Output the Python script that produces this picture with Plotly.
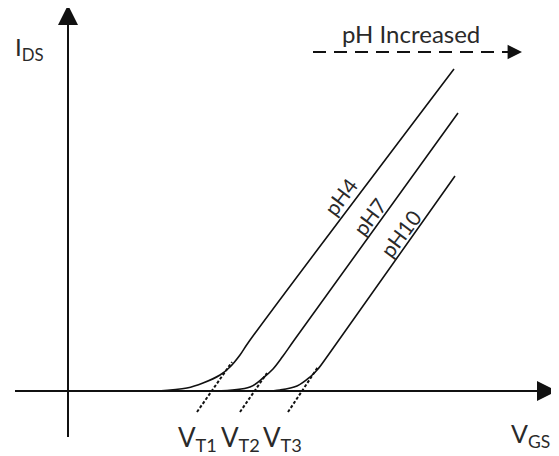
import plotly.graph_objects as go

# Transfer curves (schematic units: V_GS horizontal, I_DS vertical)
VGS_PH4 = [90, 119, 135, 152, 162, 172, 180, 386]
IDS_PH4 = [0, 3, 8, 16, 24, 36, 48, 322]
VGS_PH7 = [147, 182, 195, 205, 215, 227, 390]
IDS_PH7 = [0, 4, 13, 22, 35, 52, 278]
VGS_PH10 = [197, 212, 229, 242, 250, 261, 387]
IDS_PH10 = [0, 1, 5, 14, 22, 37, 215]

# Extrapolated linear regions (dotted) down to threshold voltages
EXT_X = [[129, 164], [172, 199], [220, 250]]
EXT_Y = [[-21, 29], [-21, 18], [-21, 24]]

CURVE_LABELS = ["pH4", "pH7", "pH10"]
CURVE_LABEL_POS = [(272, 195), (301, 175), (332, 158)]
VT_LABELS = ["V<sub>T1</sub>", "V<sub>T2</sub>", "V<sub>T3</sub>"]
VT_LABEL_X = [108, 151, 193]

FONT = "Lato"
INK = "#111111"
TXT = "#2a2a2a"

fig = go.Figure()
for xs, ys in [(VGS_PH4, IDS_PH4), (VGS_PH7, IDS_PH7), (VGS_PH10, IDS_PH10)]:
    fig.add_trace(go.Scatter(x=xs, y=ys, mode="lines",
                             line=dict(color=INK, width=1.6, shape="spline", smoothing=1.0),
                             hoverinfo="skip"))
for xs, ys in zip(EXT_X, EXT_Y):
    fig.add_trace(go.Scatter(x=xs, y=ys, mode="lines",
                             line=dict(color=INK, width=2, dash="3px,2px"),
                             hoverinfo="skip"))

# dashed "pH increased" arrow shaft
fig.add_trace(go.Scatter(x=[245, 441], y=[339, 339], mode="lines",
                         line=dict(color=INK, width=1.8, dash="13px,8px"),
                         hoverinfo="skip"))

ann = []
# axes with arrowheads
ann.append(dict(x=0, y=386, ax=0, ay=-56, xref="x", yref="y", axref="x", ayref="y",
                showarrow=True, arrowhead=2, arrowsize=2, arrowwidth=2, arrowcolor=INK, text=" "))
ann.append(dict(x=489, y=0, ax=-56, ay=0, xref="x", yref="y", axref="x", ayref="y",
                showarrow=True, arrowhead=2, arrowsize=2, arrowwidth=2, arrowcolor=INK, text=" "))
# arrowhead of dashed arrow
ann.append(dict(x=454, y=339, ax=438, ay=339, xref="x", yref="y", axref="x", ayref="y",
                showarrow=True, arrowhead=2, arrowsize=1.8, arrowwidth=1.6, arrowcolor=INK, text=" "))

ann.append(dict(x=343, y=358, xref="x", yref="y", text="pH Increased", showarrow=False,
                font=dict(family=FONT, size=24, color=TXT)))
ann.append(dict(x=-55, y=343, xref="x", yref="y", text="I<sub>DS</sub>", showarrow=False,
                xanchor="left", font=dict(family=FONT, size=24, color=TXT)))
ann.append(dict(x=441, y=-44, xref="x", yref="y", text="V<sub>GS</sub>", showarrow=False,
                xanchor="left", font=dict(family=FONT, size=25, color=TXT)))
for t, x in zip(VT_LABELS, VT_LABEL_X):
    ann.append(dict(x=x, y=-47, xref="x", yref="y", text=t, showarrow=False,
                    xanchor="left", font=dict(family=FONT, size=26, color=TXT)))
for t, (x, y) in zip(CURVE_LABELS, CURVE_LABEL_POS):
    ann.append(dict(x=x, y=y, xref="x", yref="y", text=t, showarrow=False, textangle=-53,
                    font=dict(family=FONT, size=21, color=TXT)))

# page body adds an 8px offset; shift ranges so content lands where the reference has it
OFF = 8
fig.update_layout(
    width=559, height=456,
    margin=dict(l=0, r=0, t=0, b=0),
    paper_bgcolor="white", plot_bgcolor="white",
    showlegend=False,
    xaxis=dict(range=[-68 + OFF, 491 + OFF], visible=False, fixedrange=True),
    yaxis=dict(range=[-65 - OFF, 391 - OFF], visible=False, fixedrange=True),
    annotations=ann,
)
fig.write_html("out.html")
